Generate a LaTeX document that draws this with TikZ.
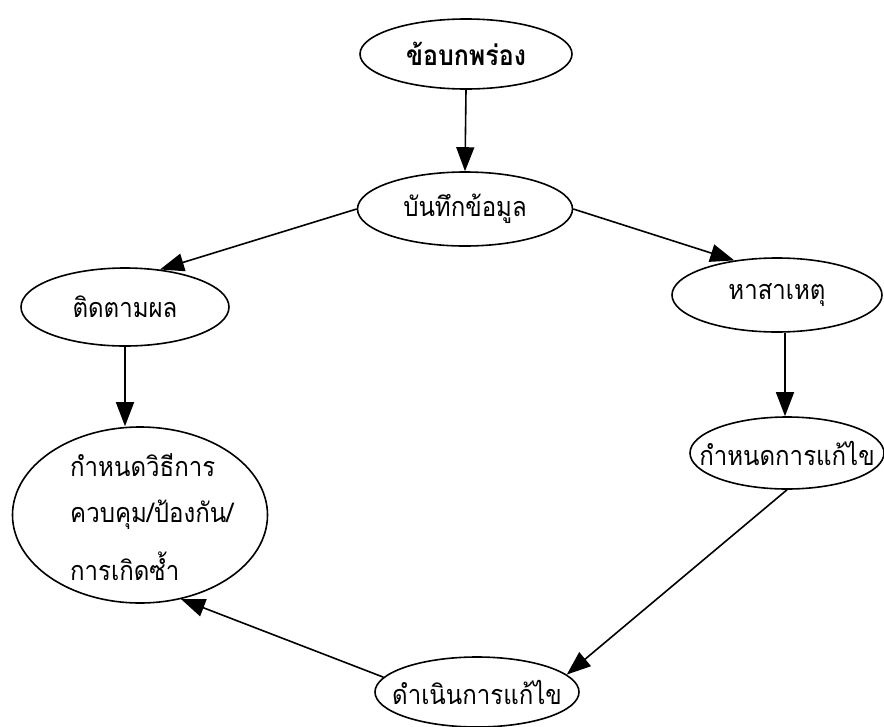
\documentclass[tikz,border=0pt]{standalone}
\usepackage{fontspec}
\newfontfamily\thaifont[Script=Thai,FakeStretch=0.89]{Loma}
\usetikzlibrary{shapes.geometric,arrows.meta}
\begin{document}
\begin{tikzpicture}[x=1pt,y=-1pt,
  bubble/.style={ellipse,draw,line width=1.6pt,inner sep=0pt},
  tag/.style={font=\thaifont\fontsize{27}{31}\selectfont,inner sep=0pt},
  bubbletext/.style={tag,anchor=west},
  flow/.style={line width=1.6pt,-{Triangle[length=24pt,width=18pt]}}]
\useasboundingbox (0,0) rectangle (884,726);

% process stages: fixed-size ellipses with centred labels
\node[bubble,minimum width=212pt,minimum height=70pt,
  label={[tag,font=\thaifont\bfseries\fontsize{28}{32}\selectfont]center:ข้อบกพร่อง}] (defect) at (466,54) {};
\node[bubble,minimum width=215pt,minimum height=74pt,
  label={[tag]center:บันทึกข้อมูล}] (record) at (465,209) {};
\node[bubble,minimum width=208pt,minimum height=78pt,
  label={[tag]center:ติดตามผล}] (follow) at (125,307) {};
\node[bubble,minimum width=210pt,minimum height=74pt,
  label={[tag]center:หาสาเหตุ}] (cause) at (777,295) {};
\node[bubble,minimum width=194pt,minimum height=72pt,
  label={[tag]center:กำหนดการแก้ไข}] (plan) at (787,453) {};
\node[bubble,minimum width=255pt,minimum height=176pt] (prevent) at (140,515) {};
\node[bubble,minimum width=204pt,minimum height=70pt,
  label={[tag]center:ดำเนินการแก้ไข}] (act) at (477,692) {};

% three-line label inside the prevention bubble
\node[bubbletext] (p1) at (70,465) {กำหนดวิธีการ};
\node[bubbletext] (p2) at (70,515) {ควบคุม/ป้องกัน/};
\node[bubbletext] (p3) at (70,566) {การเกิดซ้ำ};

% connectors
\draw[flow] (defect.south) -- (record.north);
\draw[flow] (record.west) -- (follow.47);
\draw[flow] (record.east) -- (cause.141);
\draw[flow] (follow.south) -- (follow.south |- prevent.north);
\draw[flow] (cause.south -| 785,0) -- (plan.north -| 785,0);
\draw[flow] (plan.south) -- (act.11);
\draw[flow] (act.171) -- (prevent.296);
\end{tikzpicture}
\end{document}
